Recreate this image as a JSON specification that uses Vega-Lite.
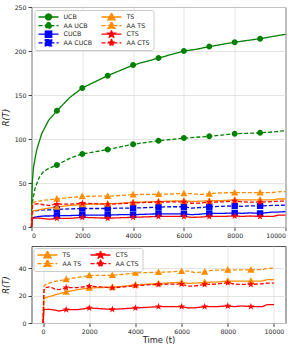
{
"$schema": "https://vega.github.io/schema/vega-lite/v6.json",
"padding": {"left": 0.5, "top": 3, "right": 5, "bottom": 2},
"spacing": 5,
"config": {
 "font": "DejaVu Sans",
 "view": {"stroke": "#555555", "strokeWidth": 1},
 "axis": {"labelFont": "DejaVu Sans", "labelFontSize": 6.2, "labelColor": "#222222", "titleFont": "DejaVu Sans", "titleFontSize": 8.3, "titleFontWeight": "normal", "titleColor": "#222222", "tickColor": "#444444", "tickSize": 3.5, "domain": false, "gridColor": "#dddddd", "gridWidth": 0.8, "labelPadding": 2, "format": "d"},
 "legend": {"labelFont": "DejaVu Sans", "labelFontSize": 6.3, "labelColor": "#222222", "padding": 3, "rowPadding": 0.6, "columnPadding": 8, "fillColor": "#ffffff", "strokeColor": "#cccccc", "cornerRadius": 2, "symbolSize": 400, "symbolStrokeWidth": 1.3, "labelOffset": 4, "clipHeight": 8}
},
"datasets": {"d": [
{"series":"UCB","t":0,"r":0},{"series":"UCB","t":10,"r":30},{"series":"UCB","t":30,"r":50},{"series":"UCB","t":80,"r":68},{"series":"UCB","t":200,"r":87},{"series":"UCB","t":400,"r":106},{"series":"UCB","t":670,"r":121},{"series":"UCB","t":1000,"r":132},{"series":"UCB","t":1500,"r":147},{"series":"UCB","t":2000,"r":158},{"series":"UCB","t":2500,"r":165},{"series":"UCB","t":3000,"r":172},{"series":"UCB","t":3500,"r":178},{"series":"UCB","t":4000,"r":184},{"series":"UCB","t":4500,"r":188},{"series":"UCB","t":5000,"r":192},{"series":"UCB","t":5500,"r":196},{"series":"UCB","t":6000,"r":200},{"series":"UCB","t":6500,"r":202},{"series":"UCB","t":7000,"r":205},{"series":"UCB","t":7500,"r":207.5},{"series":"UCB","t":8000,"r":210},{"series":"UCB","t":8500,"r":212},{"series":"UCB","t":9000,"r":214},{"series":"UCB","t":9500,"r":216.5},{"series":"UCB","t":10000,"r":219},
{"series":"AA UCB","t":0,"r":0},{"series":"AA UCB","t":10,"r":20},{"series":"AA UCB","t":30,"r":27},{"series":"AA UCB","t":80,"r":35},{"series":"AA UCB","t":150,"r":45},{"series":"AA UCB","t":300,"r":56},{"series":"AA UCB","t":470,"r":63},{"series":"AA UCB","t":700,"r":67},{"series":"AA UCB","t":1000,"r":70.5},{"series":"AA UCB","t":1500,"r":78},{"series":"AA UCB","t":2000,"r":83},{"series":"AA UCB","t":2500,"r":85.5},{"series":"AA UCB","t":3000,"r":88},{"series":"AA UCB","t":3500,"r":91},{"series":"AA UCB","t":4000,"r":94},{"series":"AA UCB","t":4500,"r":96},{"series":"AA UCB","t":5000,"r":98},{"series":"AA UCB","t":5500,"r":99.5},{"series":"AA UCB","t":6000,"r":101},{"series":"AA UCB","t":6500,"r":102},{"series":"AA UCB","t":7000,"r":103},{"series":"AA UCB","t":7500,"r":104.5},{"series":"AA UCB","t":8000,"r":106},{"series":"AA UCB","t":8500,"r":106.5},{"series":"AA UCB","t":9000,"r":107},{"series":"AA UCB","t":9500,"r":108},{"series":"AA UCB","t":10000,"r":109.5},
{"series":"CUCB","t":0,"r":0},{"series":"CUCB","t":40,"r":10},{"series":"CUCB","t":100,"r":11},{"series":"CUCB","t":300,"r":12},{"series":"CUCB","t":500,"r":12.5},{"series":"CUCB","t":700,"r":12.5},{"series":"CUCB","t":1000,"r":13},{"series":"CUCB","t":1500,"r":13},{"series":"CUCB","t":2000,"r":13.5},{"series":"CUCB","t":2500,"r":13.5},{"series":"CUCB","t":3000,"r":13.5},{"series":"CUCB","t":3500,"r":14},{"series":"CUCB","t":4000,"r":14},{"series":"CUCB","t":4500,"r":14.5},{"series":"CUCB","t":5000,"r":15},{"series":"CUCB","t":5500,"r":15},{"series":"CUCB","t":6000,"r":15},{"series":"CUCB","t":6300,"r":14},{"series":"CUCB","t":6600,"r":14.5},{"series":"CUCB","t":7000,"r":15.5},{"series":"CUCB","t":7500,"r":15.5},{"series":"CUCB","t":8000,"r":16},{"series":"CUCB","t":8300,"r":15.5},{"series":"CUCB","t":8600,"r":16},{"series":"CUCB","t":9000,"r":15.5},{"series":"CUCB","t":9500,"r":17},{"series":"CUCB","t":9700,"r":17},{"series":"CUCB","t":10000,"r":17.5},
{"series":"AA CUCB","t":0,"r":0},{"series":"AA CUCB","t":40,"r":17},{"series":"AA CUCB","t":100,"r":18},{"series":"AA CUCB","t":300,"r":19},{"series":"AA CUCB","t":500,"r":19.5},{"series":"AA CUCB","t":700,"r":19.5},{"series":"AA CUCB","t":1000,"r":20},{"series":"AA CUCB","t":1500,"r":20.5},{"series":"AA CUCB","t":2000,"r":21},{"series":"AA CUCB","t":2500,"r":21},{"series":"AA CUCB","t":3000,"r":21},{"series":"AA CUCB","t":3500,"r":21.5},{"series":"AA CUCB","t":4000,"r":21.5},{"series":"AA CUCB","t":4500,"r":22},{"series":"AA CUCB","t":5000,"r":22.5},{"series":"AA CUCB","t":5500,"r":23},{"series":"AA CUCB","t":6000,"r":23},{"series":"AA CUCB","t":6300,"r":21.5},{"series":"AA CUCB","t":6600,"r":22},{"series":"AA CUCB","t":7000,"r":23},{"series":"AA CUCB","t":7500,"r":23.5},{"series":"AA CUCB","t":8000,"r":24},{"series":"AA CUCB","t":8300,"r":23.5},{"series":"AA CUCB","t":8600,"r":24},{"series":"AA CUCB","t":9000,"r":24},{"series":"AA CUCB","t":9500,"r":24.5},{"series":"AA CUCB","t":9700,"r":24.5},{"series":"AA CUCB","t":10000,"r":25},
{"series":"TS","t":0,"r":0},{"series":"TS","t":40,"r":18},{"series":"TS","t":100,"r":18.5},{"series":"TS","t":300,"r":19.5},{"series":"TS","t":500,"r":20.5},{"series":"TS","t":700,"r":21.5},{"series":"TS","t":1000,"r":22.8},{"series":"TS","t":1500,"r":24.5},{"series":"TS","t":2000,"r":25.7},{"series":"TS","t":2500,"r":26},{"series":"TS","t":3000,"r":26.3},{"series":"TS","t":3500,"r":27},{"series":"TS","t":4000,"r":28},{"series":"TS","t":4500,"r":28.5},{"series":"TS","t":5000,"r":29},{"series":"TS","t":5500,"r":29.5},{"series":"TS","t":6000,"r":29.8},{"series":"TS","t":6300,"r":29},{"series":"TS","t":6600,"r":29.3},{"series":"TS","t":7000,"r":29.8},{"series":"TS","t":7500,"r":30},{"series":"TS","t":8000,"r":30.8},{"series":"TS","t":8300,"r":30.8},{"series":"TS","t":8600,"r":30.8},{"series":"TS","t":9000,"r":30.8},{"series":"TS","t":9500,"r":30.8},{"series":"TS","t":9700,"r":31.8},{"series":"TS","t":10000,"r":31.8},
{"series":"AA TS","t":0,"r":0},{"series":"AA TS","t":40,"r":27},{"series":"AA TS","t":100,"r":28},{"series":"AA TS","t":300,"r":29.5},{"series":"AA TS","t":500,"r":30.5},{"series":"AA TS","t":700,"r":31},{"series":"AA TS","t":1000,"r":32},{"series":"AA TS","t":1500,"r":33.5},{"series":"AA TS","t":2000,"r":34.8},{"series":"AA TS","t":2500,"r":35},{"series":"AA TS","t":3000,"r":35},{"series":"AA TS","t":3500,"r":35.8},{"series":"AA TS","t":4000,"r":36.8},{"series":"AA TS","t":4500,"r":37},{"series":"AA TS","t":5000,"r":37.2},{"series":"AA TS","t":5500,"r":37.5},{"series":"AA TS","t":6000,"r":38},{"series":"AA TS","t":6300,"r":38},{"series":"AA TS","t":6600,"r":37},{"series":"AA TS","t":7000,"r":37.5},{"series":"AA TS","t":7200,"r":38.5},{"series":"AA TS","t":7500,"r":38.8},{"series":"AA TS","t":8000,"r":39},{"series":"AA TS","t":8500,"r":39},{"series":"AA TS","t":9000,"r":39},{"series":"AA TS","t":9500,"r":39.2},{"series":"AA TS","t":9700,"r":40},{"series":"AA TS","t":10000,"r":40.2},
{"series":"CTS","t":0,"r":0},{"series":"CTS","t":40,"r":10},{"series":"CTS","t":100,"r":10},{"series":"CTS","t":300,"r":10},{"series":"CTS","t":500,"r":9.5},{"series":"CTS","t":700,"r":8.8},{"series":"CTS","t":1000,"r":9.8},{"series":"CTS","t":1500,"r":9.8},{"series":"CTS","t":2000,"r":11},{"series":"CTS","t":2500,"r":10.5},{"series":"CTS","t":3000,"r":10},{"series":"CTS","t":3500,"r":10.5},{"series":"CTS","t":4000,"r":11},{"series":"CTS","t":4500,"r":11.5},{"series":"CTS","t":5000,"r":12},{"series":"CTS","t":5500,"r":12},{"series":"CTS","t":6000,"r":12},{"series":"CTS","t":6300,"r":11},{"series":"CTS","t":6600,"r":11.2},{"series":"CTS","t":7000,"r":12},{"series":"CTS","t":7500,"r":12},{"series":"CTS","t":8000,"r":12.5},{"series":"CTS","t":8300,"r":12},{"series":"CTS","t":8600,"r":12.5},{"series":"CTS","t":9000,"r":12},{"series":"CTS","t":9500,"r":12},{"series":"CTS","t":9700,"r":13.5},{"series":"CTS","t":10000,"r":13.5},
{"series":"AA CTS","t":0,"r":0},{"series":"AA CTS","t":40,"r":24},{"series":"AA CTS","t":100,"r":26},{"series":"AA CTS","t":300,"r":26.5},{"series":"AA CTS","t":500,"r":25},{"series":"AA CTS","t":700,"r":24.5},{"series":"AA CTS","t":1000,"r":26},{"series":"AA CTS","t":1500,"r":26},{"series":"AA CTS","t":2000,"r":27},{"series":"AA CTS","t":2500,"r":26.5},{"series":"AA CTS","t":3000,"r":25.8},{"series":"AA CTS","t":3500,"r":26.5},{"series":"AA CTS","t":4000,"r":27.3},{"series":"AA CTS","t":4500,"r":28},{"series":"AA CTS","t":5000,"r":28.3},{"series":"AA CTS","t":5500,"r":28.5},{"series":"AA CTS","t":6000,"r":28.5},{"series":"AA CTS","t":6300,"r":27},{"series":"AA CTS","t":6600,"r":27.2},{"series":"AA CTS","t":7000,"r":28.3},{"series":"AA CTS","t":7500,"r":28.5},{"series":"AA CTS","t":8000,"r":29.5},{"series":"AA CTS","t":8300,"r":28.5},{"series":"AA CTS","t":8600,"r":28.3},{"series":"AA CTS","t":9000,"r":28.3},{"series":"AA CTS","t":9500,"r":28.8},{"series":"AA CTS","t":9700,"r":29.3},{"series":"AA CTS","t":10000,"r":29.3}
]},
"vconcat": [
{
 "width": 254, "height": 220,
 "data": {"name": "d"},
 "encoding": {
  "x": {"field": "t", "type": "quantitative", "scale": {"domain": [0, 10000], "nice": false}, "axis": {"values": [0, 2000, 4000, 6000, 8000, 10000], "title": null}},
  "y": {"field": "r", "type": "quantitative", "scale": {"domain": [0, 250], "nice": false}, "axis": {"values": [0, 50, 100, 150, 200, 250], "title": "R(T)", "titleFontStyle": "italic", "titlePadding": 4}},
  "color": {"field": "series", "type": "nominal",
   "scale": {"domain": ["UCB", "AA UCB", "CUCB", "AA CUCB", "TS", "AA TS", "CTS", "AA CTS"], "range": ["#008000", "#008000", "#0000ff", "#0000ff", "#ff8c00", "#ff8c00", "#ff0000", "#ff0000"]},
   "legend": {"orient": "top-left", "offset": 3, "columns": 2, "title": null}
  }
 },
 "layer": [
  {"mark": {"type": "line", "strokeWidth": 1.3},
   "encoding": {"strokeDash": {"field": "series", "type": "nominal", "scale": {"domain": ["UCB", "AA UCB", "CUCB", "AA CUCB", "TS", "AA TS", "CTS", "AA CTS"], "range": [[1,0],[4,2],[1,0],[4,2],[1,0],[4,2],[1,0],[4,2]]}, "legend": null}}},
  {"transform": [{"filter": "datum.t >= 1000 && datum.t <= 9000 && datum.t % 1000 == 0"}],
   "mark": {"type": "point", "filled": true, "opacity": 1, "size": 400},
   "encoding": {
    "shape": {"field": "series", "type": "nominal", "legend": null, "scale": {"domain": ["UCB", "AA UCB", "CUCB", "AA CUCB", "TS", "AA TS", "CTS", "AA CTS"], "range": [
     "M-1,0H1M0.3,0A0.3,0.3,0,1,1,-0.3,0A0.3,0.3,0,1,1,0.3,0Z",
     "M-1,0H1M0.3,0A0.3,0.3,0,1,1,-0.3,0A0.3,0.3,0,1,1,0.3,0Z",
     "M-1,0H1M-0.32,-0.32H0.32V0.32H-0.32Z",
     "M-1,0H1M-0.32,-0.32H0.32V0.32H-0.32Z",
     "M-1,0H1M0,-0.38L0.36,0.28H-0.36Z",
     "M-1,0H1M0,-0.38L0.36,0.28H-0.36Z",
     "M-1,0H1M0,-0.38L0.085,-0.117L0.361,-0.117L0.137,0.045L0.223,0.307L0,0.145L-0.223,0.307L-0.137,0.045L-0.361,-0.117L-0.085,-0.117Z",
     "M-1,0H1M0,-0.38L0.085,-0.117L0.361,-0.117L0.137,0.045L0.223,0.307L0,0.145L-0.223,0.307L-0.137,0.045L-0.361,-0.117L-0.085,-0.117Z"]}}
   }}
 ]
},
{
 "width": 254, "height": 77,
 "data": {"name": "d"},
 "transform": [{"filter": "datum.series == 'TS' || datum.series == 'AA TS' || datum.series == 'CTS' || datum.series == 'AA CTS'"}],
 "encoding": {
  "x": {"field": "t", "type": "quantitative", "scale": {"domain": [-500, 10500], "nice": false}, "axis": {"values": [0, 2000, 4000, 6000, 8000, 10000], "title": "Time (t)", "titlePadding": 1}},
  "y": {"field": "r", "type": "quantitative", "scale": {"domain": [0, 56.5], "nice": false}, "axis": {"values": [0, 20, 40], "title": "R(T)", "titleFontStyle": "italic", "titlePadding": 8}},
  "color": {"field": "series", "type": "nominal",
   "scale": {"domain": ["TS", "AA TS", "CTS", "AA CTS"], "range": ["#ff8c00", "#ff8c00", "#ff0000", "#ff0000"]},
   "legend": {"orient": "top-left", "offset": 2, "columns": 2, "title": null}
  }
 },
 "layer": [
  {"mark": {"type": "line", "strokeWidth": 1.3},
   "encoding": {"strokeDash": {"field": "series", "type": "nominal", "scale": {"domain": ["TS", "AA TS", "CTS", "AA CTS"], "range": [[1,0],[4,2],[1,0],[4,2]]}, "legend": null}}},
  {"transform": [{"filter": "datum.t >= 1000 && datum.t <= 9000 && datum.t % 1000 == 0"}],
   "mark": {"type": "point", "filled": true, "opacity": 1, "size": 400},
   "encoding": {
    "shape": {"field": "series", "type": "nominal", "legend": null, "scale": {"domain": ["TS", "AA TS", "CTS", "AA CTS"], "range": [
     "M-1,0H1M0,-0.38L0.36,0.28H-0.36Z",
     "M-1,0H1M0,-0.38L0.36,0.28H-0.36Z",
     "M-1,0H1M0,-0.38L0.085,-0.117L0.361,-0.117L0.137,0.045L0.223,0.307L0,0.145L-0.223,0.307L-0.137,0.045L-0.361,-0.117L-0.085,-0.117Z",
     "M-1,0H1M0,-0.38L0.085,-0.117L0.361,-0.117L0.137,0.045L0.223,0.307L0,0.145L-0.223,0.307L-0.137,0.045L-0.361,-0.117L-0.085,-0.117Z"]}}
   }}
 ]
}
],
"resolve": {"scale": {"color": "independent", "shape": "independent", "strokeDash": "independent", "x": "independent", "y": "independent"}, "legend": {"color": "independent"}}
}
